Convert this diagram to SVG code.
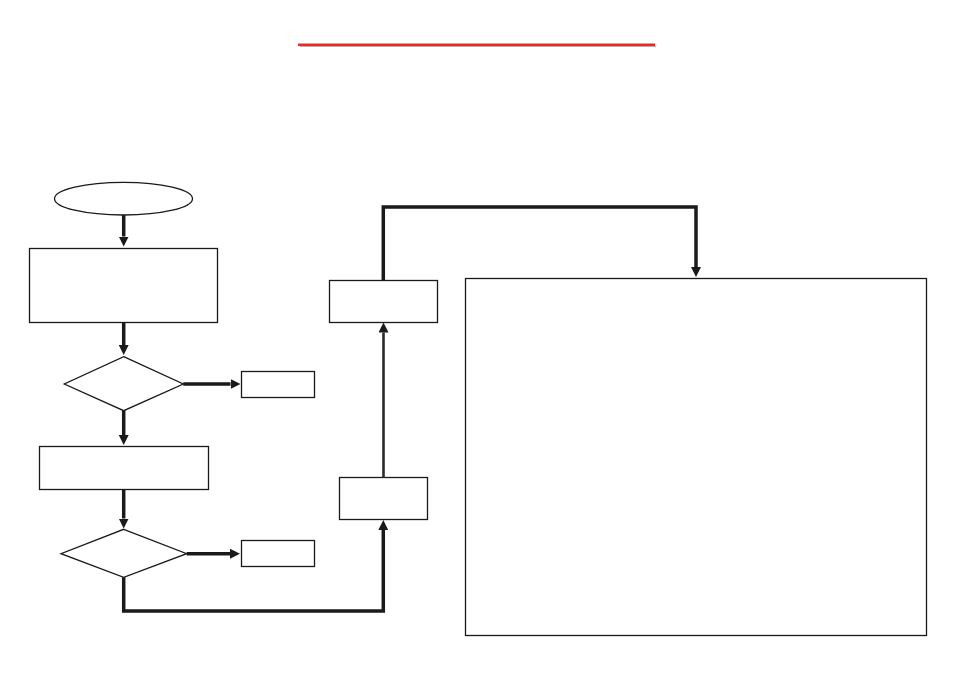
<svg xmlns="http://www.w3.org/2000/svg" width="954" height="674" viewBox="0 0 954 674">
<style>
.node{fill:#fff;stroke:#1a1a1a;stroke-width:1.3}
.conn{fill:none;stroke:#1a1a1a;stroke-width:3.5;stroke-linejoin:miter}
.thin{stroke-width:2.6;stroke:#2a2a2a}
</style>
<defs>
<marker id="ah" markerUnits="userSpaceOnUse" markerWidth="10" markerHeight="10" refX="0" refY="5" orient="auto" viewBox="0 0 10 10">
<path d="M0,0 L10,5 L0,10 z" fill="#1a1a1a"/>
</marker>
</defs>
<rect width="954" height="674" fill="#fff"/>
<g id="title-rule">
<line x1="300" y1="46.5" x2="656" y2="46.5" stroke="#b0b0b0" stroke-width="1.2"/>
<line x1="298" y1="44.7" x2="655" y2="44.7" stroke="#ff2020" stroke-width="2.6"/>
</g>
<g id="start"><ellipse class="node" cx="123.5" cy="198.7" rx="69" ry="16.3"/></g>
<g id="box1"><rect class="node" x="29.5" y="248.5" width="188" height="74"/></g>
<g id="decision1"><polygon class="node" points="123.7,356.7 183.3,384 123.7,410.7 64.3,384"/></g>
<g id="out1"><rect class="node" x="241.5" y="371.5" width="73" height="26"/></g>
<g id="box2"><rect class="node" x="39.5" y="446.5" width="169" height="43"/></g>
<g id="decision2"><polygon class="node" points="123.7,529.3 186.7,553.7 123.7,577.3 61,553.7"/></g>
<g id="out2"><rect class="node" x="241.5" y="540.5" width="73" height="26"/></g>
<g id="box3"><rect class="node" x="339.5" y="477.5" width="88" height="42"/></g>
<g id="box4"><rect class="node" x="329.5" y="280.5" width="108" height="42"/></g>
<g id="bigbox"><rect class="node" x="465.5" y="278.5" width="461" height="357"/></g>
<g id="connectors">
<path class="conn" d="M123.7,215 V236.5" marker-end="url(#ah)"/>
<path class="conn" d="M123.7,322.5 V345" marker-end="url(#ah)"/>
<path class="conn" d="M183.3,384 H230.5" marker-end="url(#ah)"/>
<path class="conn" d="M123.7,410.7 V435" marker-end="url(#ah)"/>
<path class="conn" d="M123.7,489.5 V518.5" marker-end="url(#ah)"/>
<path class="conn" d="M186.7,553.7 H230" marker-end="url(#ah)"/>
<path class="conn" d="M123.7,577.3 V611 H383.3 V530" marker-end="url(#ah)"/>
<path class="conn thin" d="M383.5,477.5 V332.5" marker-end="url(#ah)"/>
<path class="conn" d="M383.3,280.5 V207 H696 V267" marker-end="url(#ah)"/>
</g>
</svg>
